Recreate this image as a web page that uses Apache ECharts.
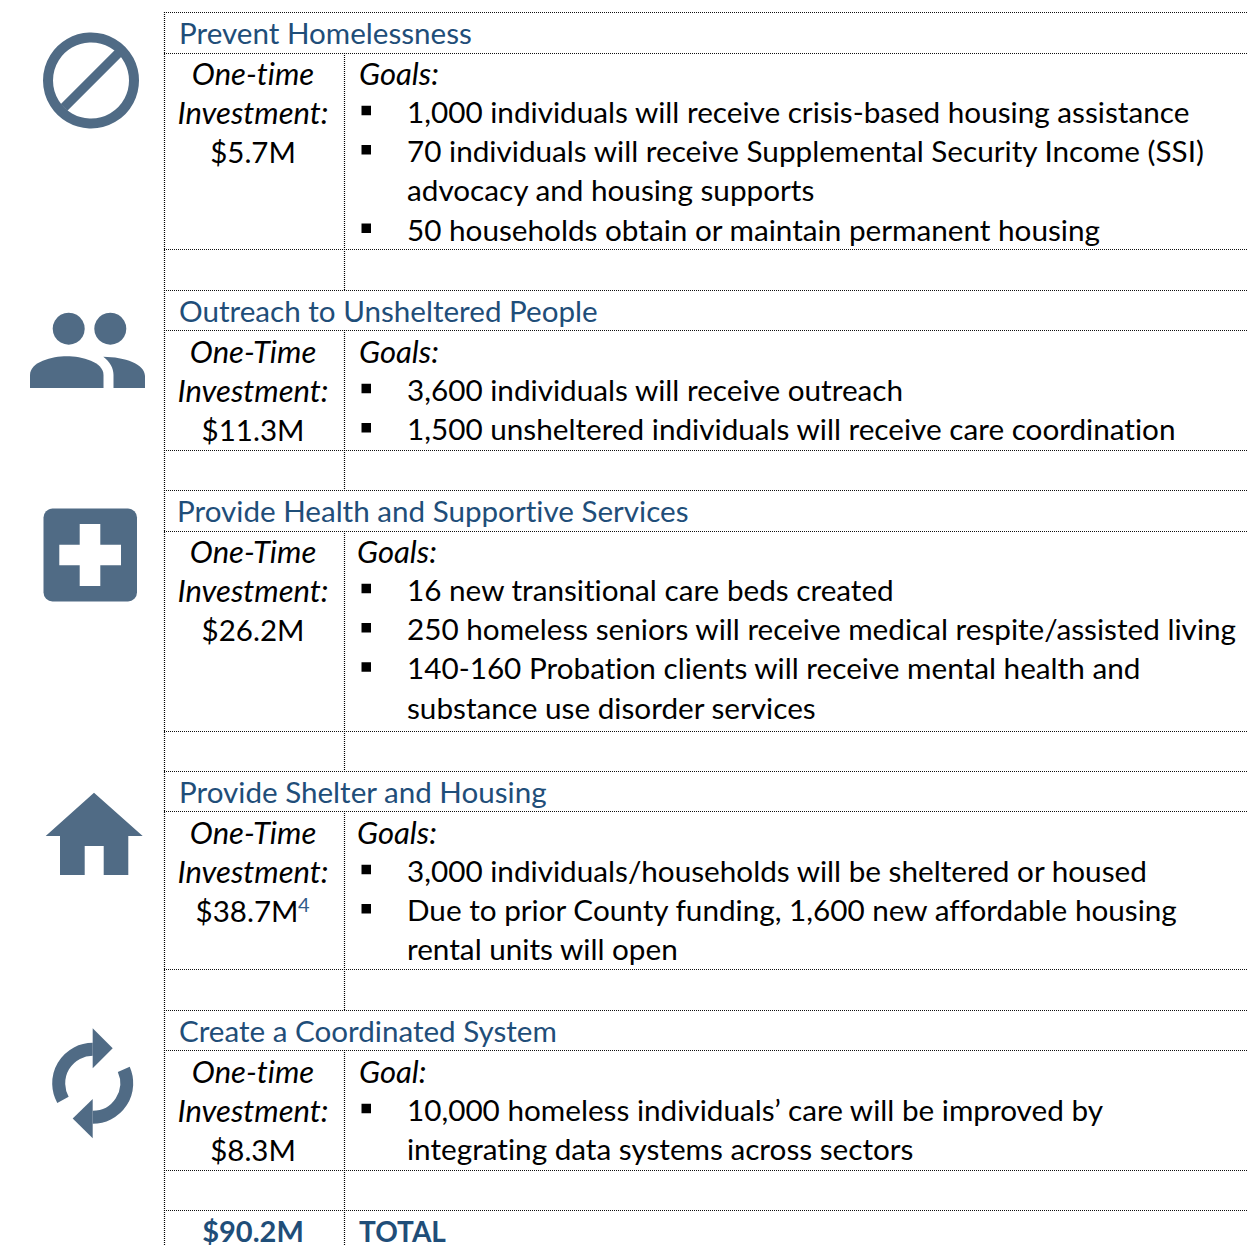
<!DOCTYPE html>
<html>
<head>
<meta charset="utf-8">
<style>
    html, body { margin: 0; background: #fff; }
    #chart { width: 1248px; height: 1245px; }
    #chart text { font-variant-ligatures: none; }
</style>
<script src="https://cdn.jsdelivr.net/npm/echarts@6/dist/echarts.min.js"></script>
</head>
<body>
<div id="chart"></div>
<script>
const headings = ['Prevent Homelessness', 'Outreach to Unsheltered People', 'Provide Health and Supportive Services', 'Provide Shelter and Housing', 'Create a Coordinated System']
const oneTimeLabels = ['One-time', 'One-Time', 'One-Time', 'One-Time', 'One-time']
const investmentLabel = 'Investment:'
const amounts = ['$5.7M', '$11.3M', '$26.2M', '$38.7M', '$8.3M']
const footnotes = ['', '', '', '4', '']
const goalLabels = ['Goals:', 'Goals:', 'Goals:', 'Goals:', 'Goal:']
const goals = [
    [['1,000 individuals will receive crisis-based housing assistance'],
     ['70 individuals will receive Supplemental Security Income (SSI)', 'advocacy and housing supports'],
     ['50 households obtain or maintain permanent housing']],
    [['3,600 individuals will receive outreach'],
     ['1,500 unsheltered individuals will receive care coordination']],
    [['16 new transitional care beds created'],
     ['250 homeless seniors will receive medical respite/assisted living'],
     ['140-160 Probation clients will receive mental health and', 'substance use disorder services']],
    [['3,000 individuals/households will be sheltered or housed'],
     ['Due to prior County funding, 1,600 new affordable housing', 'rental units will open']],
    [['10,000 homeless individuals\u2019 care will be improved by', 'integrating data systems across sectors']]
]
const totalAmount = '$90.2M'
const totalLabel = 'TOTAL'

// 表格布局
const sectionTops = [12.5, 290.5, 490.5, 771.5, 1010.5, 1210.5]
const headLines = [53.5, 330.5, 531.5, 811.5, 1050.5]
const bottomLines = [249.5, 450.5, 731.5, 969.5, 1170.5]
const headingX = [179, 179, 177, 179, 179]
const goalLabelX = [359, 359, 357, 357, 359]
const rowHeight = 39.25
const fontFamily = 'Lato'
const fontSize = 29.7
const headingSize = 29.6
const italicSize = 31
const iconColor = '#506b85'
const headColor = '#1f4e79'

const elements = []

function hLine(y) {
    elements.push({ type: 'line', silent: true, shape: { x1: 164, y1: y, x2: 1248, y2: y }, style: { stroke: '#111', lineWidth: 1.2, lineDash: [1, 1] } })
}
function vLine(x, y1, y2) {
    elements.push({ type: 'line', silent: true, shape: { x1: x, y1: Math.floor(y1), x2: x, y2: Math.floor(y2) }, style: { stroke: '#000', lineWidth: 1.2, lineDash: [1, 1] } })
}
function label(text, x, y, opts) {
    elements.push({ type: 'text', silent: true, x: x, y: y - 2, style: Object.assign({
        text: text, fontFamily: fontFamily, fontSize: fontSize, fill: '#000', textAlign: 'left', textVerticalAlign: 'middle'
    }, opts) })
}

sectionTops.forEach(y => hLine(y))
headLines.forEach(y => hLine(y))
bottomLines.forEach(y => hLine(y))
vLine(164.5, 12, 1245)
headLines.forEach((y, i) => vLine(344.5, y, sectionTops[i + 1]))
vLine(344.5, 1210, 1245)

headings.forEach((h, i) => {
    const top = sectionTops[i]
    label(h, headingX[i], top + 21.5, { fill: headColor, fontSize: headingSize })
    const rowY = n => top + 61.5 + n * rowHeight
    label(oneTimeLabels[i], 253, rowY(0) + 0.5, { textAlign: 'center', fontStyle: 'italic', fontSize: italicSize })
    label(investmentLabel, 253, rowY(1) + 0.5, { textAlign: 'center', fontStyle: 'italic', fontSize: italicSize })
    label(amounts[i], footnotes[i] ? 247 : 253, rowY(2) + 0.5, { textAlign: 'center', fontSize: 29.5 })
    if (footnotes[i]) label(footnotes[i], 298, rowY(2) - 6, { fontSize: 20, fill: '#2f5c8a' })
    label(goalLabels[i], goalLabelX[i], rowY(0) + 0.5, { fontStyle: 'italic', fontSize: italicSize })
    let row = 1
    goals[i].forEach(lines => {
        elements.push({ type: 'rect', silent: true, shape: { x: 361.5, y: rowY(row) - 7.5, width: 9.5, height: 9.5 }, style: { fill: '#000' } })
        lines.forEach(t => {
            label(t, 407, rowY(row))
            row++
        })
    })
})
label(totalAmount, 253, 1232.5, { textAlign: 'center', fontWeight: 'bold', fill: headColor, fontSize: 29 })
label(totalLabel, 359, 1232.5, { fontWeight: 'bold', fill: headColor, fontSize: 28 })

// 图标里的曲线形状
echarts.graphic.registerShape('personLeft', echarts.graphic.extendShape({
    buildPath(ctx) {
        ctx.moveTo(30, 388)
        ctx.lineTo(30, 375)
        ctx.bezierCurveTo(30, 362, 52, 356.3, 66.7, 356.3)
        ctx.bezierCurveTo(82, 356.3, 103.5, 362, 103.5, 375)
        ctx.lineTo(103.5, 388)
        ctx.closePath()
    }
}))
echarts.graphic.registerShape('personRight', echarts.graphic.extendShape({
    buildPath(ctx) {
        ctx.moveTo(103.3, 356.7)
        ctx.bezierCurveTo(125, 357, 145, 364, 145, 376)
        ctx.lineTo(145, 388)
        ctx.lineTo(113.5, 388)
        ctx.lineTo(113.5, 375)
        ctx.bezierCurveTo(113.5, 368, 110, 362, 103.3, 356.7)
        ctx.closePath()
    }
}))

const fillIcon = { fill: iconColor }
elements.push(
    { type: 'circle', silent: true, shape: { cx: 91, cy: 80.5, r: 43 }, style: { fill: 'none', stroke: iconColor, lineWidth: 10 } },
    { type: 'line', silent: true, shape: { x1: 64, y1: 107.5, x2: 118.5, y2: 53 }, style: { stroke: iconColor, lineWidth: 9.5 } },
    { type: 'circle', silent: true, shape: { cx: 68.7, cy: 328.7, r: 16 }, style: fillIcon },
    { type: 'circle', silent: true, shape: { cx: 110.3, cy: 328.7, r: 16 }, style: fillIcon },
    { type: 'personLeft', silent: true, shape: {}, style: fillIcon },
    { type: 'personRight', silent: true, shape: {}, style: fillIcon },
    { type: 'rect', silent: true, shape: { x: 43.5, y: 508.5, width: 93.5, height: 93, r: 9 }, style: fillIcon },
    { type: 'rect', silent: true, shape: { x: 79.7, y: 524, width: 20.6, height: 62 }, style: { fill: '#fff' } },
    { type: 'rect', silent: true, shape: { x: 59.3, y: 544.7, width: 61.7, height: 20.6 }, style: { fill: '#fff' } },
    { type: 'polygon', silent: true, shape: { points: [[94, 792.7], [142.7, 836], [128.3, 836], [128.3, 875], [103.7, 875], [103.7, 846], [84.7, 846], [84.7, 875], [60, 875], [60, 836], [45.7, 836]] }, style: fillIcon },
    { type: 'arc', silent: true, shape: { cx: 92.7, cy: 1083.3, r: 34, startAngle: 151 * Math.PI / 180, endAngle: 270 * Math.PI / 180, clockwise: true }, style: { fill: 'none', stroke: iconColor, lineWidth: 13 } },
    { type: 'arc', silent: true, shape: { cx: 92.7, cy: 1083.3, r: 34, startAngle: -24 * Math.PI / 180, endAngle: 90 * Math.PI / 180, clockwise: true }, style: { fill: 'none', stroke: iconColor, lineWidth: 13 } },
    { type: 'polygon', silent: true, shape: { points: [[112.7, 1048.3], [92.7, 1028.3], [92.7, 1068.3]] }, style: fillIcon },
    { type: 'polygon', silent: true, shape: { points: [[72.7, 1118.5], [92.7, 1099], [92.7, 1138.3]] }, style: fillIcon }
)

const myChart = echarts.init(document.getElementById('chart'), null, { renderer: 'svg' })
myChart.setOption({
    animation: false,
    backgroundColor: '#fff',
    graphic: { elements: elements }
})
</script>
</body>
</html>
